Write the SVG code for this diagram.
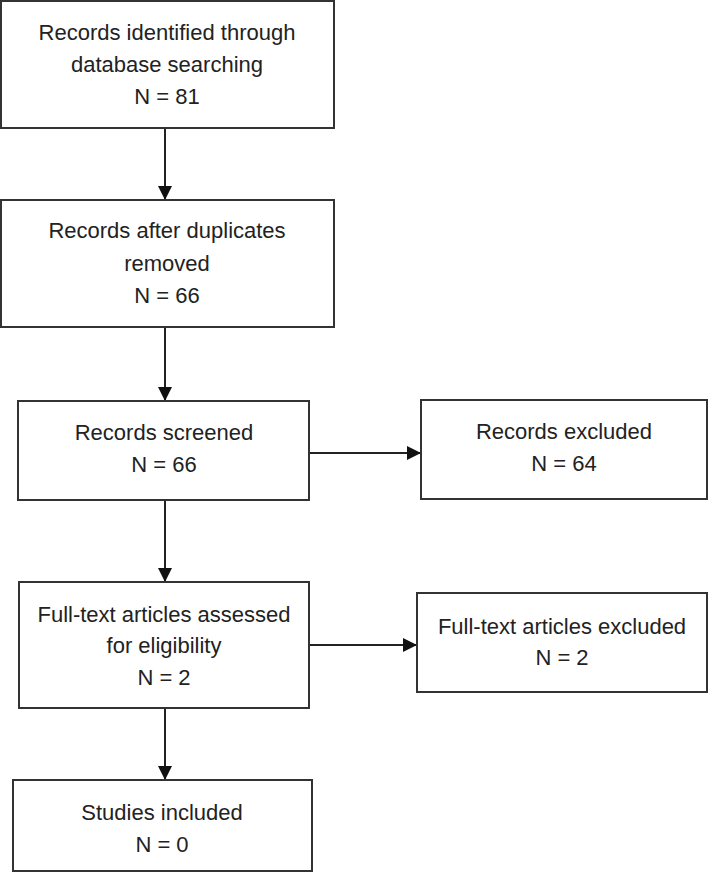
<svg xmlns="http://www.w3.org/2000/svg" width="709" height="872" viewBox="0 0 709 872">
<style>
.box{fill:#fff;stroke:#333;stroke-width:2}
.t{font-family:"Liberation Sans",Arial,sans-serif;font-size:22px;fill:#222;text-anchor:middle}
.c{stroke:#222;stroke-width:2;fill:none}
</style>
<defs>
<marker id="ah" markerUnits="userSpaceOnUse" markerWidth="14" markerHeight="14" viewBox="0 0 14 14" refX="14" refY="7" orient="auto">
<path d="M0,0 L14,7 L0,14 Z" fill="#111"/>
</marker>
</defs>
<rect width="709" height="872" fill="#fff"/>
<g id="connectors">
<line class="c" x1="165" y1="128" x2="165" y2="200" marker-end="url(#ah)"/>
<line class="c" x1="165" y1="327" x2="165" y2="401" marker-end="url(#ah)"/>
<line class="c" x1="309" y1="453" x2="421" y2="453" marker-end="url(#ah)"/>
<line class="c" x1="165" y1="500" x2="165" y2="582" marker-end="url(#ah)"/>
<line class="c" x1="309" y1="645" x2="417" y2="645" marker-end="url(#ah)"/>
<line class="c" x1="165" y1="708" x2="165" y2="780" marker-end="url(#ah)"/>
</g>
<g id="identified">
<rect class="box" x="1" y="1" width="333" height="127"/>
<text class="t" x="167" y="40">Records identified through</text>
<text class="t" x="167" y="72">database searching</text>
<text class="t" x="167" y="104">N = 81</text>
</g>
<g id="deduplicated">
<rect class="box" x="1" y="200" width="333" height="127"/>
<text class="t" x="167" y="238">Records after duplicates</text>
<text class="t" x="167" y="271">removed</text>
<text class="t" x="167" y="303">N = 66</text>
</g>
<g id="screened">
<rect class="box" x="18" y="401" width="291" height="99"/>
<text class="t" x="164" y="440">Records screened</text>
<text class="t" x="164" y="472">N = 66</text>
</g>
<g id="excluded">
<rect class="box" x="421" y="400" width="286" height="99"/>
<text class="t" x="564" y="439">Records excluded</text>
<text class="t" x="564" y="471">N = 64</text>
</g>
<g id="assessed">
<rect class="box" x="19" y="582" width="290" height="126"/>
<text class="t" x="164" y="622">Full-text articles assessed</text>
<text class="t" x="164" y="653">for eligibility</text>
<text class="t" x="164" y="685">N = 2</text>
</g>
<g id="ftexcluded">
<rect class="box" x="417" y="593" width="290" height="99"/>
<text class="t" x="562" y="634">Full-text articles excluded</text>
<text class="t" x="562" y="665">N = 2</text>
</g>
<g id="included">
<rect class="box" x="13" y="780" width="299" height="91"/>
<text class="t" x="162" y="820">Studies included</text>
<text class="t" x="162" y="852">N = 0</text>
</g>
</svg>
